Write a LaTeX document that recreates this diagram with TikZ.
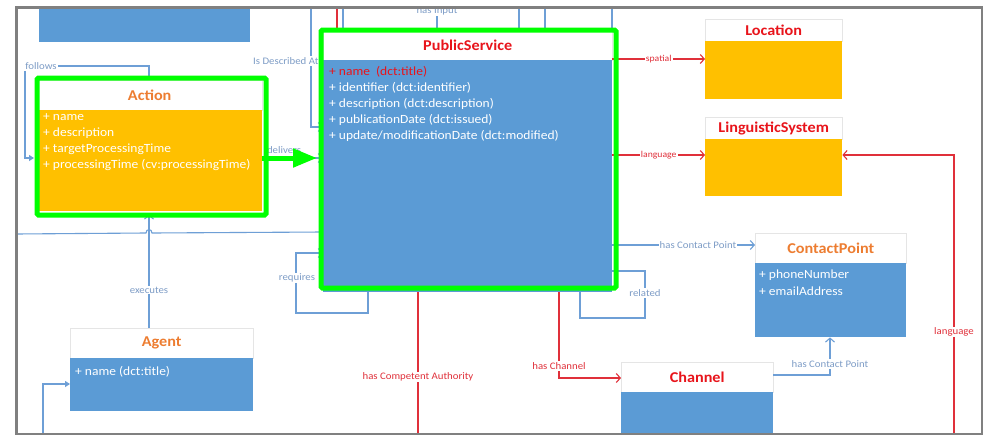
\documentclass[tikz,border=0pt]{standalone}
\usepackage{fontspec}
\setmainfont{Carlito}[FakeStretch=1.08]
\usetikzlibrary{arrows.meta}
\definecolor{ublue}{HTML}{5B9BD5}
\definecolor{lblue}{HTML}{6E9FD6}
\definecolor{tblue}{HTML}{7D9CC6}
\definecolor{uorange}{HTML}{FFC000}
\definecolor{torange}{HTML}{ED7D31}
\definecolor{ured}{HTML}{E8141B}
\definecolor{lred}{HTML}{E0303A}
\definecolor{ugreen}{HTML}{00FF00}
\definecolor{framegray}{HTML}{808080}
\begin{document}
\begin{tikzpicture}[x=1pt,y=-1pt,
  hdr/.style={draw=black!10, fill=white, anchor=north west, inner sep=0pt, font=\bfseries\fontsize{15}{17}\selectfont},
  bodyb/.style={anchor=north west, inner sep=0pt, draw=none},
  attr/.style={anchor=base west, inner sep=0pt, text=white, font=\fontsize{12.5}{14}\selectfont},
  lab/.style={fill=white, inner sep=1pt, font=\fontsize{10}{12}\selectfont},
  bl/.style={draw=lblue, line width=1.1pt},
  rd/.style={draw=lred, line width=1.1pt},
  open/.style={-{Straight Barb[length=4pt,width=9pt]}},
  tri/.style={-{Triangle[length=5pt,width=6pt]}},
  gbox/.style={draw=ugreen, line width=5pt, rounded corners=1.5pt, anchor=north west, inner sep=0pt},
]
\fill[white] (0,0) rectangle (983,434);
\useasboundingbox (0,0) rectangle (983,434);

% ---------- boxes ----------
\node[bodyb, fill=ublue, minimum width=211, minimum height=36] (topbox) at (39,6) {};

\node[hdr, text=torange, minimum width=225, minimum height=30] (actH) at (37,80) {Action};
\node[bodyb, fill=uorange, minimum width=225, minimum height=101] (actB) at (37,110) {};

\node[hdr, text=ured, minimum width=289, minimum height=30] (psH) at (323,30) {PublicService};
\node[bodyb, fill=ublue, minimum width=289, minimum height=232] (psB) at (323,60) {};

\node[hdr, text=ured, minimum width=137, minimum height=22] (locH) at (705,19) {Location};
\node[bodyb, fill=uorange, minimum width=137, minimum height=58] (locB) at (705,41) {};

\node[hdr, text=ured, minimum width=137, minimum height=22] (lsH) at (705,117) {LinguisticSystem};
\node[bodyb, fill=uorange, minimum width=137, minimum height=57] (lsB) at (705,139) {};

\node[hdr, text=torange, minimum width=151, minimum height=30] (cpH) at (755,233) {ContactPoint};
\node[bodyb, fill=ublue, minimum width=151, minimum height=74] (cpB) at (755,263) {};

\node[hdr, text=ured, minimum width=152, minimum height=30] (chH) at (621,362) {Channel};
\node[bodyb, fill=ublue, minimum width=152, minimum height=42] (chB) at (621,392) {};

\node[hdr, text=torange, minimum width=183, minimum height=30] (agH) at (70,328) {Agent};
\node[bodyb, fill=ublue, minimum width=183, minimum height=53] (agB) at (70,358) {};

% ---------- attributes ----------
\node[attr] (actA1) at (43,120) {+ name};
\node[attr] (actA2) at (43,136) {+ description};
\node[attr] (actA3) at (43,152) {+ targetProcessingTime};
\node[attr] (actA4) at (43,168) {+ processingTime (cv:processingTime)};

\node[attr, text=ured] (psA1) at (329,75) {+ name\ \ (dct:title)};
\node[attr] (psA2) at (329,91) {+ identifier (dct:identifier)};
\node[attr] (psA3) at (329,107) {+ description (dct:description)};
\node[attr] (psA4) at (329,123) {+ publicationDate (dct:issued)};
\node[attr] (psA5) at (329,139) {+ update/modificationDate (dct:modified)};

\node[attr] (cpA1) at (759,278) {+ phoneNumber};
\node[attr] (cpA2) at (759,295) {+ emailAddress};

\node[attr] (agA1) at (75,375) {+ name (dct:title)};

% ---------- free ends ----------
\coordinate (idTop) at (311,6);
\coordinate (rTop) at (337,6);
\coordinate (bTop1) at (343,6);
\coordinate (hiTop) at (437,6);
\coordinate (bTop2) at (519,6);
\coordinate (bTop3) at (545,6);
\coordinate (bTop4) at (612,6);
\coordinate (hlStart) at (16,234);
\coordinate (agEnd) at (43,433);
\coordinate (hcaEnd) at (418,433);
\coordinate (langEnd) at (954,433);

% ---------- connectors ----------
\draw[bl, open] (idTop) |- (psB.west |- 0,127);
\draw[rd] (rTop) -- (psH.north -| rTop);
\draw[bl] (bTop1) -- (psH.north -| bTop1);
\draw[bl] (hiTop) -- (psH.north -| hiTop);
\draw[bl] (bTop2) -- (psH.north -| bTop2);
\draw[bl] (bTop3) -- (psH.north -| bTop3);
\draw[bl] (bTop4) -- (psH.north -| bTop4);
\node[lab, text=tblue] (lblInput) at (437,11) {has Input};
\node[lab, text=tblue, anchor=west] (lblDescr) at (252,61) {Is Described At};

\draw[bl, tri, shorten >=3pt] (actH.north -| 149,0) |- (25,66) |- (actB.west |- 0,158);
\node[lab, text=tblue] (lblFollows) at (41,66) {follows};

\draw[bl, open] (actB.east |- 0,158) -- (psB.west |- 0,158);
\node[text=tblue, font=\fontsize{10}{12}\selectfont, inner sep=0pt] (lblDeliv) at (284,150) {delivers};

\draw[bl] (hlStart) -- (146,233) .. controls (146,228.5) and (152,228.5) .. (152,233) -- (psB.west |- 0,232);

\draw[bl, open, shorten >=3pt] (agH.north -| 149,0) -- (actB.south -| 149,0);
\node[lab, text=tblue] (lblExec) at (149,290) {executes};

\draw[bl, tri] (agEnd) |- (agB.west |- 0,384);

\draw[bl, open] (psB.south -| 368,0) |- (296,313) |- (psB.west |- 0,253);
\node[lab, text=tblue] (lblReq) at (297,278) {requires};

\draw[bl] (psB.east |- 0,271) -| (645,318) -| (psB.south -| 580,0);
\node[lab, text=tblue] (lblRel) at (645,293) {related};

\draw[rd, open] (psB.east |- 0,59) -- node[lab, text=lred, font=\fontsize{9}{11}\selectfont] (lblSpatial) {spatial} (locB.west |- 0,59);
\draw[rd, open] (psB.east |- 0,155) -- node[lab, text=lred, font=\fontsize{9}{11}\selectfont] (lblLang1) {language} (lsB.west |- 0,155);
\draw[rd, open] (langEnd) |- (lsB.east |- 0,155);
\node[lab, text=lred] (lblLang2) at (954,332) {language};

\draw[bl, open] (psB.east |- 0,245) -- node[lab, text=tblue, pos=0.6] (lblCP1) {has Contact Point} (cpH.west |- 0,245);

\draw[rd, open] (psB.south -| 559,0) |- (chH.west |- 0,378);
\node[lab, text=lred] (lblChan) at (559,366) {has Channel};

\draw[rd] (psB.south -| 418,0) -- (hcaEnd);
\node[lab, text=lred] (lblHCA) at (418,377) {has Competent Authority};

\draw[bl, open] (chH.east |- 0,375) -| (cpB.south -| 830,0);
\node[lab, text=tblue] (lblCP2) at (830,364) {has Contact Point};

% ---------- highlights ----------
\node[gbox, minimum width=229, minimum height=137] (actGreen) at (34.5,75.5) {};
\node[gbox, minimum width=295, minimum height=258] (psGreen) at (318.5,27.5) {};
\draw[ugreen, line width=5pt, -{Triangle[length=24pt,width=18pt]}, shorten >=6pt] (actB.east |- 0,158) -- (psH.west |- 0,158);

% ---------- frame ----------
\node[draw=framegray, line width=3pt, anchor=north west, minimum width=965.5, minimum height=427.5, inner sep=0pt] (frame) at (15,5.5) {};
\end{tikzpicture}
\end{document}
